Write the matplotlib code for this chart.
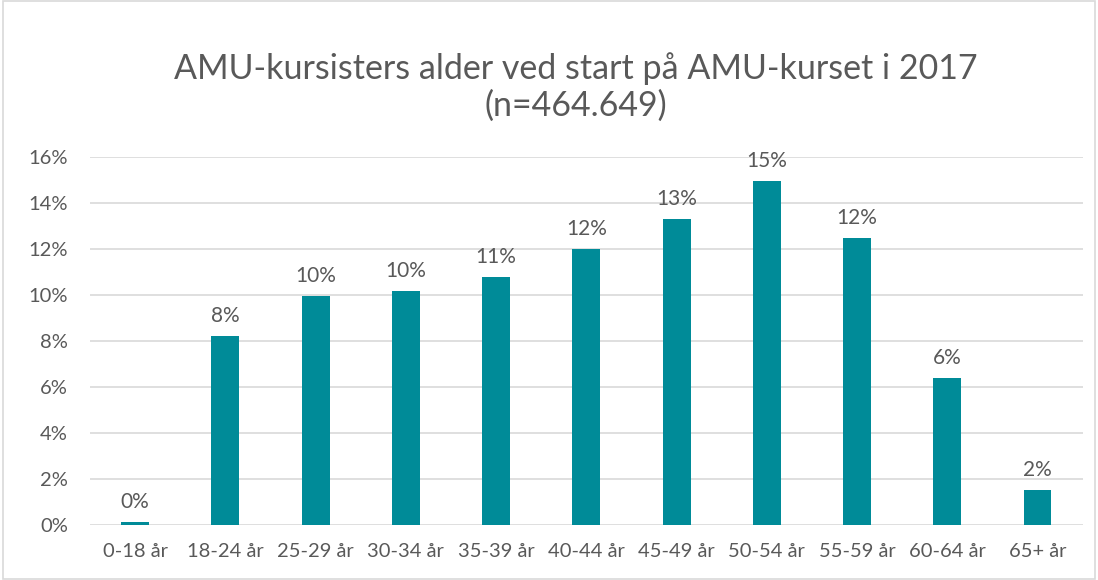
import matplotlib.pyplot as plt
import matplotlib.patches as mpatches
import numpy as np

plt.rcParams['font.family'] = ['Lato', 'DejaVu Sans']

categories = ['0-18 år', '18-24 år', '25-29 år', '30-34 år', '35-39 år', '40-44 år',
              '45-49 år', '50-54 år', '55-59 år', '60-64 år', '65+ år']
values = [0.13, 8.22, 9.96, 10.17, 10.78, 12.0, 13.3, 14.96, 12.48, 6.39, 1.52]
yticks = [0, 2, 4, 6, 8, 10, 12, 14, 16]

text_color = '#595959'
bar_color = '#008B98'

fig = plt.figure(figsize=(10.98, 5.8), dpi=100)
ax = fig.add_axes([0.082, 0.095, 0.904, 0.634])

x = np.arange(len(categories))
ax.bar(x, values, width=0.31, color=bar_color, zorder=3)

for xi, v in zip(x, values):
    ax.text(xi, v + 0.45, f'{round(v):.0f}%', ha='center', va='bottom',
            fontsize=15, color=text_color)

ax.set_xlim(-0.5, len(categories) - 0.5)
ax.set_ylim(0, 16)
ax.set_yticks(yticks)
ax.set_yticklabels([f'{t}%' for t in yticks])
ax.set_xticks(x)
ax.set_xticklabels(categories)
ax.tick_params(axis='both', length=0, labelsize=14.5, colors=text_color)
ax.tick_params(axis='x', pad=13)
ax.tick_params(axis='y', pad=16)
ax.grid(axis='y', color='#d9d9d9', linewidth=1.2, zorder=0)
for s in ax.spines.values():
    s.set_visible(False)

fig.text(0.524, 0.85, 'AMU-kursisters alder ved start på AMU-kurset i 2017\n(n=464.649)',
         ha='center', va='center', fontsize=24.5, color=text_color, linespacing=1.2)

fig.patches.append(mpatches.Rectangle((0.003, 0.002), 0.994, 0.996, transform=fig.transFigure,
                                      fill=False, edgecolor='#d9d9d9', linewidth=1.2))

fig.savefig('out.png', dpi=100)
